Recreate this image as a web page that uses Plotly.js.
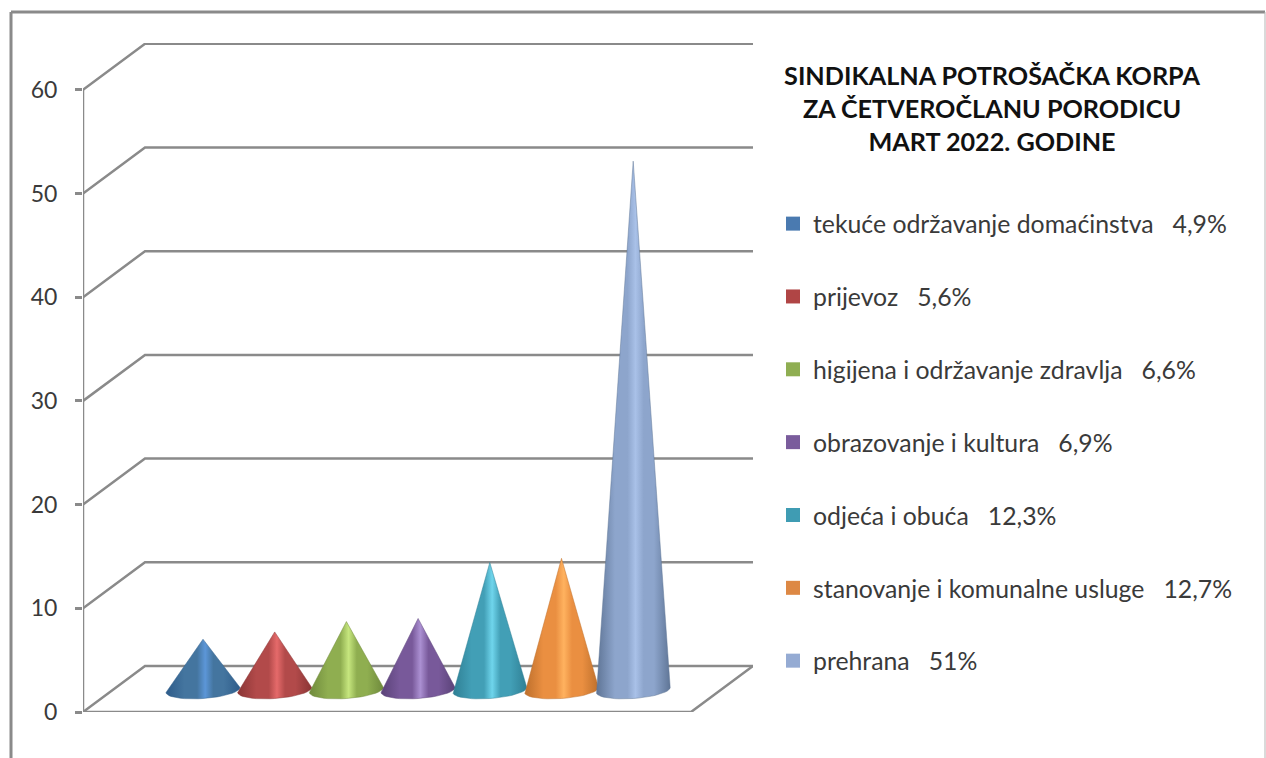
<!DOCTYPE html>
<html>
<head>
<meta charset="utf-8">
<script src="https://cdn.plot.ly/plotly-3.0.1.min.js"></script>
<style>html,body{margin:0;padding:0;background:#fff;overflow:hidden}#chart{width:1266px;height:758px}</style>
</head>
<body>
<div id="chart"></div>
<script>
const categories = ["tekuće održavanje domaćinstva", "prijevoz", "higijena i održavanje zdravlja", "obrazovanje i kultura", "odjeća i obuća", "stanovanje i komunalne usluge", "prehrana"];
const percentLabels = ["4,9%", "5,6%", "6,6%", "6,9%", "12,3%", "12,7%", "51%"];
const values = [4.9, 5.6, 6.6, 6.9, 12.3, 12.7, 51];
const yTicks = [0, 10, 20, 30, 40, 50, 60];
const swatchColors = ["#4a7ab0", "#b04545", "#8fae52", "#7a5c9c", "#3f9cb3", "#dd8844", "#95abd3"];
const edgeColors = ["#2e5c8a", "#8a3535", "#6f8a3c", "#5a4278", "#2f7f94", "#bd6f2c", "#5f7596"];
const midColors = ["#44759f", "#b24a4a", "#8fae50", "#78599a", "#429fb6", "#ea8f41", "#8da5cc"];
const lightColors = ["#5c96d8", "#e56a6a", "#c6e67e", "#ab90d2", "#6fd5ec", "#ffb25f", "#a9c1e8"];

const GREY = "#8a8a8a", FONT = "Lato, sans-serif", TEXT = "#3a3a3a";
const PXX = 71.7, PXY = 10.37;              // px per axis unit, for sizing in axis units
const xMin = (83 - 203) / PXX, xMax = (753 - 203) / PXX;
const depthX = 62 / PXX, depthY = 46 / PXY;
const baseY = 22 / PXY, radius = 37 / PXX;
const yTop = yTicks[yTicks.length - 1];

const traces = [];
// perspective floor and walls
yTicks.forEach(function (t) {
  traces.push({
    x: [xMin, xMin + depthX, xMax], y: [t, t + depthY, t + depthY],
    type: "scatter", mode: "lines", line: {color: GREY, width: 2.5},
    cliponaxis: false, showlegend: false, hoverinfo: "skip"
  });
});
traces.push({
  x: [xMin, xMax - depthX, xMax], y: [0, 0, depthY],
  type: "scatter", mode: "lines", line: {color: GREY, width: 2.5},
  cliponaxis: false, showlegend: false, hoverinfo: "skip"
});
// visible part of the value axis
traces.push({
  x: [xMin, xMin], y: [0, yTop],
  type: "scatter", mode: "lines", line: {color: GREY, width: 2.5},
  cliponaxis: false, showlegend: false, hoverinfo: "skip"
});
// cones
values.forEach(function (v, i) {
  const xs = [i], ys = [v + baseY];
  for (let k = 0; k <= 24; k++) {
    const a = Math.PI - Math.PI * k / 24;
    xs.push(i + radius * Math.cos(a));
    ys.push(baseY - (8.5 * Math.sin(a) - 2.5 * Math.cos(a)) / PXY);
  }
  xs.push(i); ys.push(v + baseY);
  traces.push({
    x: xs, y: ys, type: "scatter", mode: "lines", fill: "toself",
    line: {width: 0.8, color: edgeColors[i] + "99"},
    fillgradient: {type: "horizontal", colorscale: [
      [0, edgeColors[i]], [0.25, midColors[i]], [0.42, midColors[i]], [0.53, lightColors[i]],
      [0.64, midColors[i]], [0.78, midColors[i]], [1, edgeColors[i]]
    ]},
    name: categories[i], showlegend: false, hoverinfo: "name+text", text: percentLabels[i], cliponaxis: false
  });
});
// legend entries
categories.forEach(function (c, i) {
  traces.push({
    x: [null], y: [null], type: "scatter", mode: "markers",
    marker: {symbol: "square", size: 14, color: swatchColors[i]},
    name: c + "\u00a0\u00a0\u00a0" + percentLabels[i],
    legendgroup: "g" + i, showlegend: true, hoverinfo: "skip"
  });
});

const layout = {
  width: 1266, height: 758,
  margin: {l: 83, r: 513, t: 43, b: 46},
  paper_bgcolor: "#fff", plot_bgcolor: "rgba(0,0,0,0)",
  font: {family: FONT, color: TEXT},
  showlegend: true,
  hovermode: "closest",
  title: {
    text: "SINDIKALNA POTROŠAČKA KORPA<br>ZA ČETVEROČLANU PORODICU<br>MART 2022. GODINE",
    x: 992 / 1266, xref: "container", xanchor: "center",
    y: 1 - 85 / 758, yref: "container", yanchor: "top",
    font: {family: FONT, size: 25.2, color: "#111", weight: 700}
  },
  legend: {
    x: 773 / 1266, xref: "container", xanchor: "left",
    y: 1 - 201 / 758, yref: "container", yanchor: "top",
    font: {family: FONT, size: 24.8, color: TEXT},
    traceorder: "grouped", tracegroupgap: 37.6, itemclick: false, itemdoubleclick: false,
    maxheight: 540, entrywidth: 460, entrywidthmode: "pixels",
    bgcolor: "rgba(0,0,0,0)", borderwidth: 0
  },
  xaxis: {range: [xMin, xMax], visible: false, fixedrange: true},
  yaxis: {
    range: [0, 669 / PXY], tickmode: "array", tickvals: yTicks, ticktext: yTicks.map(String),
    showgrid: false, zeroline: false, showline: false,
    ticks: "outside", ticklen: 7, tickwidth: 2.5, tickcolor: GREY,
    tickfont: {family: FONT, size: 23, color: TEXT}, ticklabelstandoff: 13, fixedrange: true
  },
  shapes: [
    {type: "line", xref: "paper", yref: "paper", x0: -72 / 670, x1: -72 / 670, y0: 1 + 31 / 669, y1: -46 / 669, line: {color: GREY, width: 3}},
    {type: "line", xref: "paper", yref: "paper", x0: -72 / 670, x1: 1182 / 670, y0: 1 + 31 / 669, y1: 1 + 31 / 669, line: {color: GREY, width: 3}},
    {type: "line", xref: "paper", yref: "paper", x0: 1182 / 670, x1: 1182 / 670, y0: 1 + 31 / 669, y1: -46 / 669, line: {color: "#b5b5b5", width: 1}}
  ]
};
Plotly.newPlot("chart", traces, layout, {displayModeBar: false, responsive: false});
</script>
</body>
</html>
